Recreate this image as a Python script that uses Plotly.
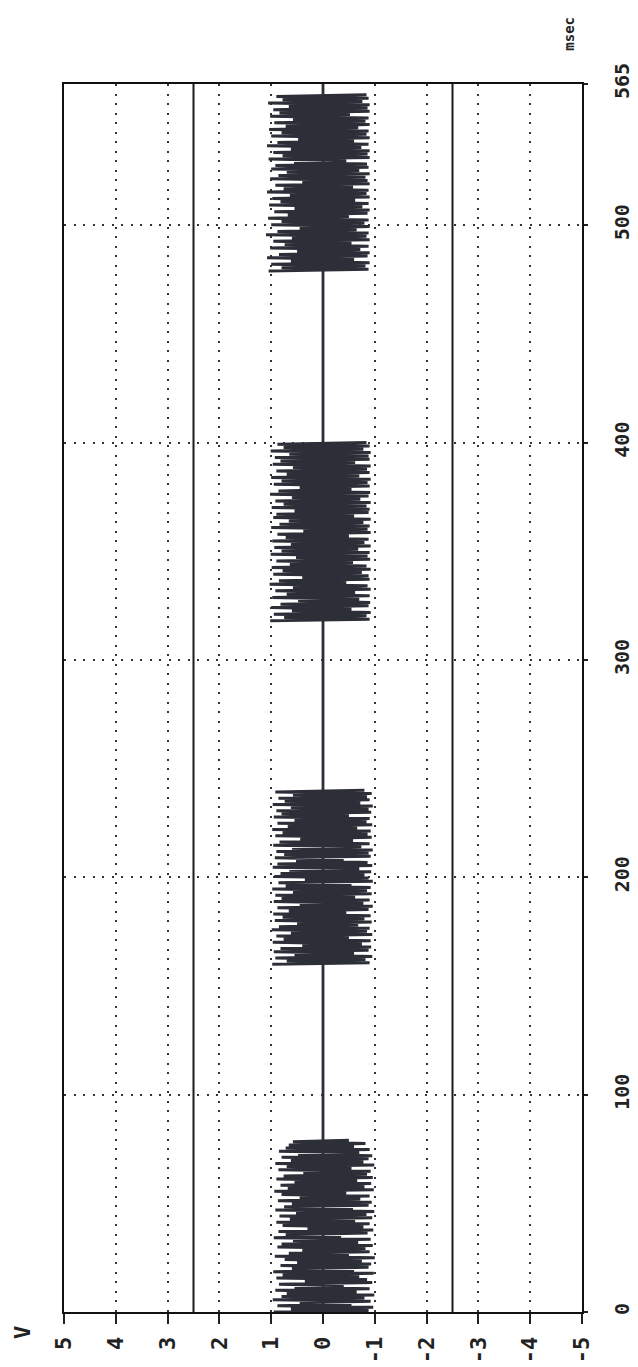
import plotly.graph_objects as go

# ---------------- data ----------------
volt_ticks = [5, 4, 3, 2, 1, 0, -1, -2, -3, -4, -5]
volt_labels = ["5", "4", "3", "2", "1", "0", "-1", "-2", "-3", "-4", "-5"]
time_ticks = [0, 100, 200, 300, 400, 500, 565]
time_labels = ["0", "100", "200", "300", "400", "500", "565"]
limit_lines = [2.5, -2.5]

burst_windows = [(0, 79), (160, 240), (318, 400), (479, 560)]

burst1 = [0.95,-0.88, 0.62,-0.97, 0.88,-0.55, 0.45,-0.92, 0.97,-0.80, 0.80,-0.99, 0.70,-0.65, 0.92,-0.90,
          0.55,-0.40, 0.85,-0.95, 0.35,-0.85, 0.90,-0.70, 0.78,-0.98, 0.96,-0.60, 0.60,-0.88, 0.82,-0.93,
          0.50,-0.75, 0.74,-1.00, 0.93,-0.50, 0.66,-0.90, 0.40,-0.82, 0.88,-0.96, 0.80,-0.68, 0.58,-0.92,
          0.95,-0.35, 0.72,-0.86, 0.86,-0.97, 0.30,-0.78, 0.78,-0.90, 0.90,-0.62, 0.64,-0.95, 0.84,-0.84,
          0.52,-0.99, 0.92,-0.58, 0.75,-0.88, 0.60,-0.94, 0.87,-0.72, 0.45,-0.90, 0.80,-0.45, 0.94,-0.98,
          0.68,-0.80, 0.82,-0.93, 0.55,-0.66, 0.90,-0.96, 0.76,-0.85, 0.38,-0.92, 0.86,-0.55, 0.70,-0.99,
          0.92,-0.78, 0.62,-0.88, 0.80,-0.95, 0.48,-0.70, 0.85,-0.90, 0.72,-0.60, 0.66,-0.82, 0.58,-0.50]

burst2 = [0.98,-0.90, 0.70,-0.82, 0.92,-0.95, 0.55,-0.60, 0.95,-0.88, 0.82,-0.93, 0.40,-0.75, 0.97,-0.92,
          0.76,-0.50, 0.90,-0.95, 0.62,-0.85, 0.99,-0.90, 0.85,-0.68, 0.50,-0.94, 0.93,-0.80, 0.78,-0.92,
          0.96,-0.45, 0.66,-0.88, 0.88,-0.96, 0.45,-0.78, 0.95,-0.90, 0.80,-0.62, 0.92,-0.94, 0.58,-0.85,
          0.98,-0.92, 0.72,-0.55, 0.86,-0.96, 0.35,-0.88, 0.94,-0.80, 0.82,-0.93, 0.65,-0.70, 0.97,-0.95,
          0.88,-0.86, 0.52,-0.40, 0.93,-0.92, 0.75,-0.88, 0.90,-0.96, 0.60,-0.74, 0.96,-0.90, 0.84,-0.58,
          0.44,-0.94, 0.92,-0.86, 0.78,-0.92, 0.98,-0.66, 0.68,-0.95, 0.88,-0.84, 0.55,-0.90, 0.95,-0.50,
          0.80,-0.93, 0.90,-0.88, 0.62,-0.96, 0.97,-0.72, 0.74,-0.90, 0.86,-0.85, 0.58,-0.94, 0.92,-0.80]

burst3 = [1.02,-0.90, 0.75,-0.84, 0.95,-0.92, 0.60,-0.55, 1.00,-0.88, 0.82,-0.91, 0.48,-0.70, 0.98,-0.90,
          0.70,-0.62, 0.92,-0.92, 0.58,-0.86, 1.03,-0.45, 0.85,-0.90, 0.40,-0.88, 0.96,-0.75, 0.78,-0.92,
          0.99,-0.84, 0.64,-0.58, 0.90,-0.91, 0.52,-0.86, 1.01,-0.90, 0.80,-0.68, 0.94,-0.92, 0.62,-0.80,
          0.98,-0.88, 0.72,-0.50, 0.88,-0.92, 0.38,-0.86, 1.00,-0.90, 0.84,-0.78, 0.66,-0.92, 0.96,-0.60,
          0.90,-0.88, 0.55,-0.90, 0.99,-0.84, 0.76,-0.92, 0.92,-0.72, 0.60,-0.88, 1.02,-0.91, 0.86,-0.55,
          0.45,-0.90, 0.95,-0.86, 0.80,-0.92, 1.00,-0.70, 0.70,-0.90, 0.90,-0.85, 0.58,-0.92, 0.97,-0.62,
          0.82,-0.90, 0.93,-0.88, 0.65,-0.92, 1.01,-0.78, 0.76,-0.90, 0.88,-0.84]

burst4 = [1.05,-0.88, 0.80,-0.82, 1.00,-0.90, 0.62,-0.60, 1.08,-0.86, 0.85,-0.90, 0.50,-0.72, 1.02,-0.88,
          0.74,-0.55, 0.96,-0.90, 0.60,-0.84, 1.10,-0.88, 0.88,-0.65, 0.45,-0.90, 1.00,-0.80, 0.80,-0.88,
          1.06,-0.50, 0.68,-0.86, 0.94,-0.90, 0.55,-0.76, 1.04,-0.88, 0.82,-0.62, 0.98,-0.90, 0.64,-0.84,
          1.08,-0.88, 0.76,-0.58, 0.92,-0.90, 0.40,-0.86, 1.02,-0.82, 0.86,-0.90, 0.70,-0.70, 1.00,-0.88,
          0.92,-0.85, 0.56,-0.45, 1.05,-0.90, 0.78,-0.86, 0.96,-0.90, 0.62,-0.74, 1.08,-0.88, 0.88,-0.60,
          0.48,-0.90, 1.00,-0.84, 0.80,-0.88, 1.04,-0.68, 0.72,-0.90, 0.94,-0.82, 0.58,-0.88, 1.02,-0.52,
          0.84,-0.90, 0.96,-0.86, 0.66,-0.90, 1.06,-0.76, 0.78,-0.88, 0.90,-0.84]

bursts = [burst1, burst2, burst3, burst4]

baseline_t = [0, 565]
baseline_v = [0, 0]

# ---------------- figure ----------------
SIG = "#2c2f37"
FONT = "DejaVu Sans Mono"

fig = go.Figure()

fig.add_trace(go.Scatter(x=baseline_v, y=baseline_t, mode="lines",
                         line=dict(color=SIG, width=2.8), hoverinfo="skip", showlegend=False))

for (t0, t1), vals in zip(burst_windows, bursts):
    n = len(vals)
    ts = [t0 + i * (t1 - t0) / (n - 1) for i in range(n)]
    fig.add_trace(go.Scatter(x=vals, y=ts, mode="lines",
                             line=dict(color=SIG, width=3.0), hoverinfo="skip", showlegend=False))

for v in limit_lines:
    fig.add_shape(type="line", xref="x", yref="paper", x0=v, x1=v, y0=0, y1=1,
                  line=dict(color="#1a1a1a", width=2))

# scan edge line
fig.add_shape(type="line", xref="paper", yref="paper", x0=1.096, x1=1.096, y0=-0.06, y1=1.07,
              line=dict(color="#8a8a8a", width=1.5))

fig.add_annotation(text="msec", xref="paper", yref="paper", x=0.975, y=1.041,
                   showarrow=False, textangle=-90, xanchor="center", yanchor="middle",
                   font=dict(family=FONT, size=14, color="#222", weight="bold"))
fig.add_annotation(text="V", xref="paper", yref="paper", x=-0.079, y=-0.017,
                   showarrow=False, textangle=-90, xanchor="center", yanchor="middle",
                   font=dict(family=FONT, size=22, color="#222", weight="bold"))

fig.update_layout(
    width=638, height=1367,
    margin=dict(l=56, r=60, t=76, b=56),
    paper_bgcolor="white", plot_bgcolor="white",
    showlegend=False,
    xaxis=dict(range=[5, -5], tickvals=volt_ticks, ticktext=volt_labels,
               tickangle=-90, ticks="outside", ticklen=10, tickwidth=1.5, tickcolor="#222",
               ticklabelstandoff=4,
               showgrid=True, gridcolor="#333", gridwidth=2, griddash="2px,7.5px",
               zeroline=False, showline=True, linecolor="#111", linewidth=2, mirror=True,
               tickfont=dict(family=FONT, size=22, color="#222", weight="bold")),
    yaxis=dict(range=[0, 565], tickvals=time_ticks, ticktext=time_labels, side="right",
               tickangle=-90, ticks="outside", ticklen=4, tickwidth=1.5, tickcolor="#222",
               ticklabelstandoff=17,
               showgrid=True, gridcolor="#333", gridwidth=2, griddash="2px,7.5px",
               zeroline=False, showline=True, linecolor="#111", linewidth=2, mirror=True,
               tickfont=dict(family=FONT, size=20, color="#222", weight="bold")),
)

fig.write_html("out.html")
